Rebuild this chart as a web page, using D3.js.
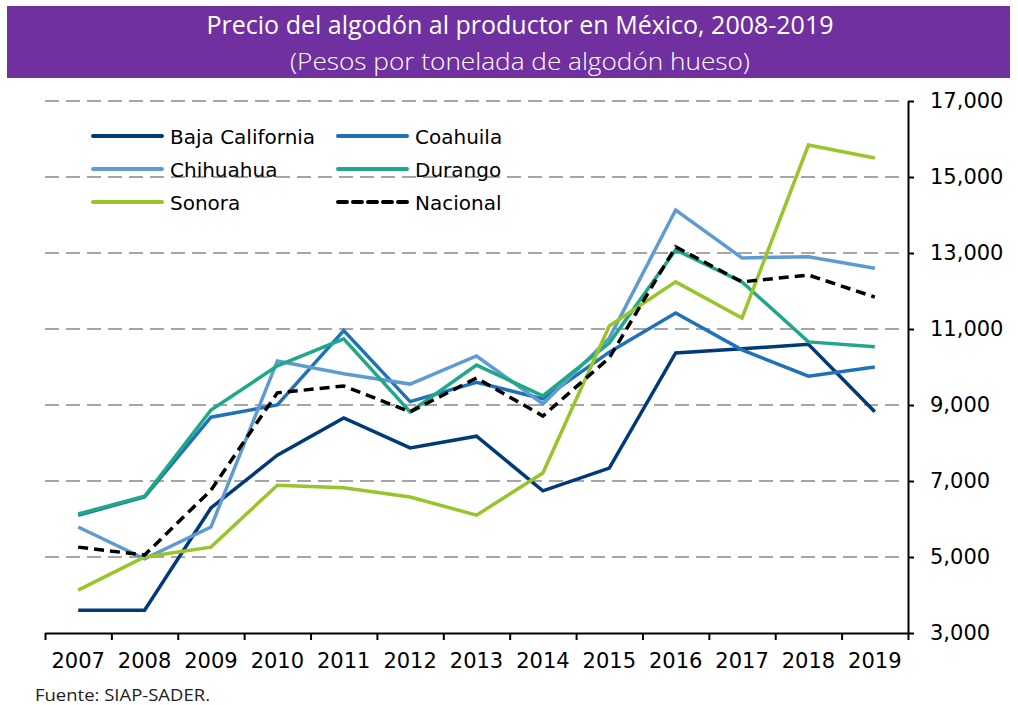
<html>
  <head>
    <meta charset="utf-8" />
    <script src="https://cdnjs.cloudflare.com/ajax/libs/d3/7.8.5/d3.min.js"></script>
    <style>
      body { margin: 0; background: #fff; }
      svg { display: block; }
    </style>
  </head>
  <body>
    <svg width="1018" height="705"></svg>
  </body>
  <script>
    // años y precios (pesos por tonelada)
    let years = ["2007", "2008", "2009", "2010", "2011", "2012", "2013", "2014", "2015", "2016", "2017", "2018", "2019"];
    let bajaCalifornia = [3600, 3600, 6290, 7680, 8660, 7870, 8180, 6740, 7340, 10370, 10480, 10600, 8820];
    let coahuila = [6100, 6580, 8680, 9000, 10960, 9090, 9600, 9160, 10390, 11420, 10450, 9760, 10000];
    let chihuahua = [5790, 4950, 5790, 10160, 9820, 9550, 10290, 9030, 10760, 14130, 12870, 12900, 12600];
    let durango = [6130, 6600, 8870, 10030, 10740, 8820, 10050, 9240, 10630, 13080, 12240, 10660, 10530];
    let sonora = [4130, 5000, 5260, 6890, 6820, 6580, 6100, 7210, 11080, 12240, 11290, 15840, 15500];
    let nacional = [5260, 5050, 6760, 9320, 9500, 8820, 9710, 8710, 10240, 13160, 12240, 12420, 11840];
    let yTicks = [3000, 5000, 7000, 9000, 11000, 13000, 15000, 17000];

    let series = [
      { name: "Baja California", values: bajaCalifornia, color: "#003A78" },
      { name: "Coahuila", values: coahuila, color: "#1F72BA" },
      { name: "Chihuahua", values: chihuahua, color: "#5F9BD3" },
      { name: "Durango", values: durango, color: "#1FA887" },
      { name: "Sonora", values: sonora, color: "#99C42A" },
      { name: "Nacional", values: nacional, color: "#000000", dash: "10,6" },
    ];

    let svg = d3.select("svg");

    // banda de título
    svg.append("rect").attr("x", 7).attr("y", 6).attr("width", 1003).attr("height", 72).attr("fill", "#7030A0");
    svg.append("text")
      .attr("x", 520).attr("y", 34)
      .attr("text-anchor", "middle")
      .attr("textLength", 627).attr("lengthAdjust", "spacingAndGlyphs")
      .style("font-family", "Open Sans").style("font-size", "25px").style("fill", "#fff")
      .text("Precio del algodón al productor en México, 2008-2019");
    svg.append("text")
      .attr("x", 520).attr("y", 70)
      .attr("text-anchor", "middle")
      .attr("textLength", 460).attr("lengthAdjust", "spacingAndGlyphs")
      .style("font-family", "Open Sans").style("font-weight", 300).style("font-size", "24px").style("fill", "#fff")
      .text("(Pesos por tonelada de algodón hueso)");

    let x = d3.scaleBand().domain(years).range([45, 908]);
    let xEdge = d3.scaleLinear().domain([0, years.length]).range([45, 908]);
    let y = d3.scaleLinear().domain([3000, 17000]).range([633, 101]);

    // rejilla
    svg.append("g")
      .selectAll("line")
      .data(yTicks.slice(1))
      .enter()
      .append("line")
      .attr("x1", 45).attr("x2", 906)
      .attr("y1", (d) => y(d)).attr("y2", (d) => y(d))
      .style("stroke", "#a6a6a6").style("stroke-width", 2).style("stroke-dasharray", "14,7");

    // eje x: marcas entre categorías y etiquetas centradas
    let xTicks = svg.append("g").attr("transform", "translate(0,633)")
      .call(d3.axisBottom(xEdge).tickValues(d3.range(0, years.length + 1)).tickSize(7).tickSizeOuter(0).tickFormat(""));
    xTicks.selectAll("path, line").style("stroke", "#000").style("stroke-width", 2);

    let xLabels = svg.append("g").attr("transform", "translate(0,633)")
      .call(d3.axisBottom(x).tickSize(0).tickPadding(20));
    xLabels.select("path.domain").remove();
    xLabels.selectAll("text").style("font-family", "DejaVu Sans").style("font-size", "21px").style("fill", "#000");

    // eje y
    let yAxis = svg.append("g").attr("transform", "translate(908,0)");
    yAxis.call(d3.axisRight(y).tickValues(yTicks).tickSize(6).tickSizeOuter(0).tickPadding(16).tickFormat(d3.format(",")));
    yAxis.selectAll("path").style("stroke", "#000").style("stroke-width", 2);
    yAxis.selectAll("line").style("stroke", "#000").style("stroke-width", 2);
    yAxis.selectAll("text").style("font-family", "DejaVu Sans").style("font-size", "21px").style("fill", "#000");

    // líneas
    let line = d3.line()
      .x((d, i) => x(years[i]) + x.bandwidth() / 2)
      .y((d) => y(d));

    svg.append("g")
      .selectAll("path.serie")
      .data(series)
      .enter()
      .append("path")
      .attr("class", "serie")
      .attr("d", (d) => line(d.values))
      .style("fill", "none")
      .style("stroke", (d) => d.color)
      .style("stroke-width", 3.5)
      .style("stroke-dasharray", (d) => d.dash || null);

    // leyenda
    let legend = svg.append("g")
      .selectAll("g.item")
      .data(series)
      .enter()
      .append("g")
      .attr("class", "item")
      .attr("transform", (d, i) => `translate(${93 + (i % 2) * 245},${136 + Math.floor(i / 2) * 33})`);
    legend.append("line")
      .attr("x1", 0).attr("x2", 69)
      .style("stroke", (d) => d.color)
      .style("stroke-width", 4)
      .style("stroke-linecap", "round")
      .style("stroke-dasharray", (d) => (d.dash ? "9,6" : null));
    legend.append("text")
      .attr("x", 77).attr("y", 8)
      .style("font-family", "DejaVu Sans").style("font-size", "20px").style("fill", "#000")
      .text((d) => d.name);

    svg.append("text")
      .attr("x", 35).attr("y", 701)
      .attr("textLength", 175).attr("lengthAdjust", "spacingAndGlyphs")
      .style("font-family", "Open Sans").style("font-size", "17px").style("fill", "#222")
      .text("Fuente: SIAP-SADER.");
  </script>
</html>
